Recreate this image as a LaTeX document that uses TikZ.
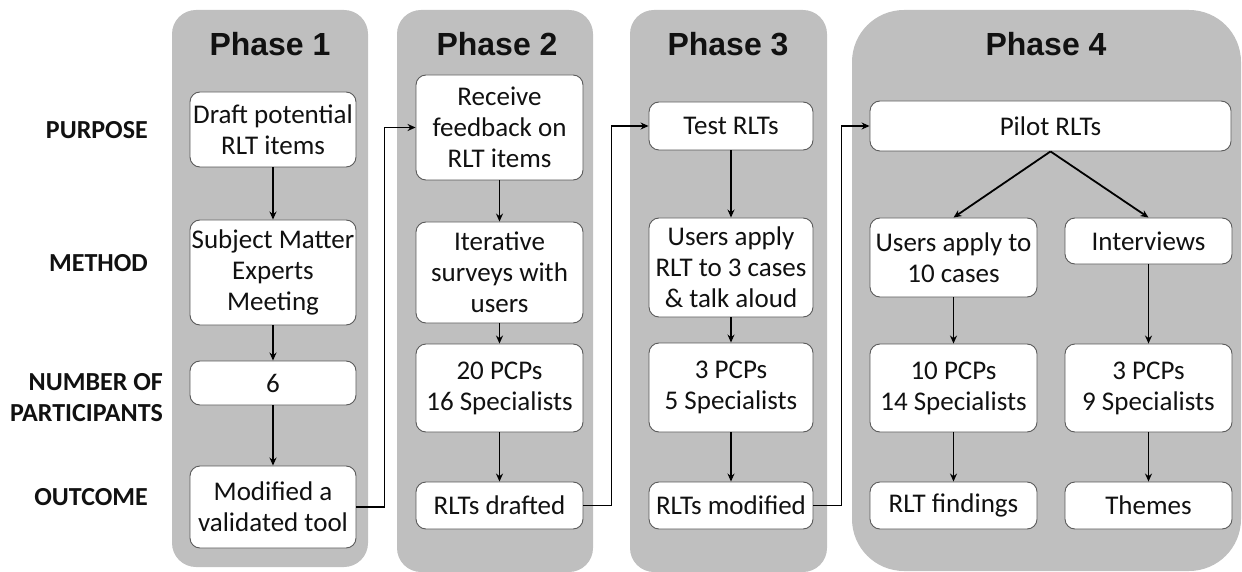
\documentclass[tikz,border=0pt]{standalone}
\usepackage{fontspec}
\setmainfont{Carlito}
\newfontfamily\headfont{Liberation Sans}
\usetikzlibrary{arrows.meta}
\definecolor{panelgray}{HTML}{BFBFBF}
\definecolor{boxline}{HTML}{5A5A5A}
\definecolor{ink}{HTML}{111111}
\begin{document}
\begin{tikzpicture}[x=1pt,y=-1pt,
  panel/.style={fill=panelgray,draw=none,rounded corners=24pt},
  head/.style={font=\headfont\bfseries\fontsize{32}{36}\selectfont,text=ink},
  rowlabel/.style={font=\bfseries\fontsize{26}{31}\selectfont,text=ink,anchor=east,align=right,inner sep=0pt},
  box/.style={draw=boxline,line width=0.9pt,fill=white,rounded corners=10pt,align=center,
    font=\fontsize{27}{31}\selectfont,text=ink,inner sep=1pt},
  arr/.style={draw=black,line width=1.8pt,-{Stealth[length=8pt,width=7pt]}}]
\useasboundingbox (0,0) rectangle (1242,572);

% phase panels
\fill[panel] (172,10) rectangle (368,567);
\fill[panel] (397,10) rectangle (593,572);
\fill[panel] (630,10) rectangle (827,572);
\fill[panel,rounded corners=52pt] (852,10) rectangle (1241,571);

% headers
\node[head] (h1) at (270,44) {Phase 1};
\node[head] (h2) at (497,44) {Phase 2};
\node[head] (h3) at (728,44) {Phase 3};
\node[head] (h4) at (1046,44) {Phase 4};

% row labels
\node[rowlabel] (lp) at (148,130) {PURPOSE};
\node[rowlabel] (lm) at (148,263) {METHOD};
\node[rowlabel] (ln) at (163,397.5) {NUMBER OF\\PARTICIPANTS};
\node[rowlabel] (lo) at (148,497) {OUTCOME};

% phase 1
\node[box,minimum width=166pt,minimum height=75pt] (p1a) at (273,129.5) {Draft potential\\RLT items};
\node[box,minimum width=166pt,minimum height=105pt] (p1b) at (273,272.5) {Subject Matter\\Experts\\Meeting};
\node[box,minimum width=166pt,minimum height=44pt] (p1c) at (273,383) {6};
\node[box,minimum width=166pt,minimum height=82pt] (p1d) at (273,507) {Modified a\\validated tool};

% phase 2
\node[box,minimum width=167pt,minimum height=105pt] (p2a) at (499.5,127.5) {Receive\\feedback on\\RLT items};
\node[box,minimum width=167pt,minimum height=101pt] (p2b) at (499.5,272.5) {Iterative\\surveys with\\users};
\node[box,minimum width=167pt,minimum height=88pt] (p2c) at (499.5,388) {20 PCPs\\16 Specialists};
\node[box,minimum width=167pt,minimum height=47pt] (p2d) at (499.5,505.5) {RLTs drafted};

% phase 3
\node[box,minimum width=164pt,minimum height=48pt] (p3a) at (731,126) {Test RLTs};
\node[box,minimum width=164pt,minimum height=99pt] (p3b) at (731,267.5) {Users apply\\RLT to 3 cases\\\& talk aloud};
\node[box,minimum width=164pt,minimum height=89pt] (p3c) at (731,387.5) {3 PCPs\\5 Specialists};
\node[box,minimum width=164pt,minimum height=47pt] (p3d) at (731,505.5) {RLTs modified};

% phase 4
\node[box,minimum width=361pt,minimum height=50pt] (p4a) at (1050.5,126) {Pilot RLTs};
\node[box,minimum width=167pt,minimum height=79pt] (p4b) at (953.5,257.5) {Users apply to\\10 cases};
\node[box,minimum width=167pt,minimum height=46pt] (p4c) at (1148.5,241) {Interviews};
\node[box,minimum width=167pt,minimum height=88pt] (p4d) at (953.5,388) {10 PCPs\\14 Specialists};
\node[box,minimum width=167pt,minimum height=88pt] (p4e) at (1148.5,388) {3 PCPs\\9 Specialists};
\node[box,minimum width=167pt,minimum height=47pt] (p4f) at (953.5,505.5) {RLT findings};
\node[box,minimum width=167pt,minimum height=47pt] (p4g) at (1148.5,505.5) {Themes};

% vertical flow inside phases
\draw[arr] (p1a) -- (p1b);
\draw[arr] (p1b) -- (p1c);
\draw[arr] (p1c) -- (p1d);
\draw[arr] (p2a) -- (p2b);
\draw[arr] (p2b) -- (p2c);
\draw[arr] (p2c) -- (p2d);
\draw[arr] (p3a) -- (p3b);
\draw[arr] (p3b) -- (p3c);
\draw[arr] (p3c) -- (p3d);
\draw[arr] (p4a.south) -- (p4b.north);
\draw[arr] (p4a.south) -- (p4c.north);
\draw[arr] (p4b) -- (p4d);
\draw[arr] (p4d) -- (p4f);
\draw[arr] (p4c) -- (p4e);
\draw[arr] (p4e) -- (p4g);

% links between phases
\draw[arr] (p1d.east) -- ++(28,0) |- (p2a.west);
\draw[arr] (p2d.east) -- ++(28,0) |- (p3a.west);
\draw[arr] (p3d.east) -- ++(28,0) |- (p4a.west);
\end{tikzpicture}
\end{document}
